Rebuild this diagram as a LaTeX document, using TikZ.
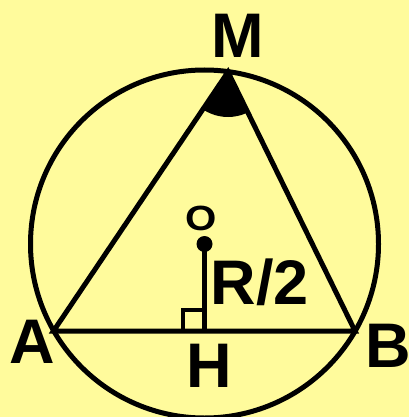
\documentclass[tikz,border=0pt]{standalone}
\usepackage{fontspec}
\setmainfont{Liberation Sans}
\definecolor{bgyellow}{RGB}{255,251,156}
\begin{document}
\begin{tikzpicture}[x=1pt,y=-1pt,
  big/.style={font=\bfseries\fontsize{63}{63}\selectfont, inner sep=0pt, anchor=base},
  small/.style={font=\bfseries\fontsize{35}{35}\selectfont, inner sep=0pt, anchor=base, xscale=1.15, transform shape},
  thick line/.style={line width=5pt, line join=miter},
  mark line/.style={line width=4pt}]
\fill[bgyellow] (0,0) rectangle (409,417);
\useasboundingbox (0,0) rectangle (409,417);
\coordinate (O) at (204.5,244);
\coordinate (A) at (53.5,331);
\coordinate (B) at (355,331);
\coordinate (M) at (228,72);
\coordinate (H) at (204.5,331);
% angle mark at M
\begin{scope}
  \clip (M) -- (A) -- (B) -- cycle;
  \fill (M) circle (45);
\end{scope}
% circle
\draw[thick line] (O) circle (174);
% triangle
\draw[thick line] (M) -- (A) -- (B) -- cycle;
% right-angle mark
\draw[mark line] (H) ++(-21.5,0) -- ++(0,-21) -- ++(21.5,0);
% O to H
\draw[thick line] (O) -- (H);
\fill (O) circle (8);
% labels
\node[big] (lM) at (238,58) {M};
\node[big] (lA) at (32,363) {A};
\node[big] (lB) at (388,367) {B};
\node[big] (lH) at (209,387) {H};
\node[small] (lO) at (201,230) {O};
\node[big] (lR) at (260,304) {R/2};
\end{tikzpicture}
\end{document}
